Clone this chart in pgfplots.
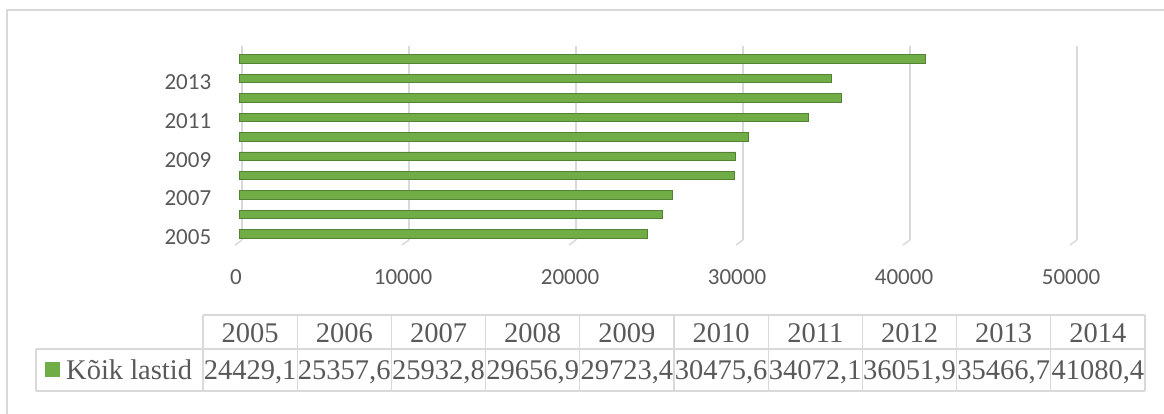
\documentclass[border=0pt]{standalone}
\usepackage{fontspec}
\usepackage{pgfplots}
\pgfplotsset{compat=1.18}
\newfontfamily\carlito{Carlito}
\newfontfamily\lserif{Liberation Serif}
\definecolor{bargreen}{HTML}{70AD47}
\definecolor{bardark}{HTML}{548235}
\definecolor{gridgray}{HTML}{D9D9D9}
\definecolor{txtgray}{HTML}{595959}
\begin{document}
\begin{tikzpicture}[x=1pt,y=1pt]
\useasboundingbox (0,0) rectangle (1164,414);
\draw[gridgray, line width=1.5pt] (7,0) -- (7,404) -- (1164,404);
\begin{axis}[at={(242pt,174pt)}, anchor=south west, scale only axis,
  width=835pt, height=194pt,
  xmin=0, xmax=50000, ymin=2004.69, ymax=2014.67,
  xbar, bar width=8.5pt,
  axis line style={draw=none}, major tick style={draw=none},
  xtick={0,10000,20000,30000,40000,50000},
  ytick={2005,2007,2009,2011,2013},
  xmajorgrids, major grid style={gridgray, line width=1.5pt},
  scaled x ticks=false,
  /pgf/number format/.cd, 1000 sep={}, assume math mode=true, /pgfplots/.cd,
  xticklabel style={font=\carlito\fontsize{23}{27}\selectfont, text=txtgray, anchor=center, yshift=-37pt, xshift=-6pt},
  yticklabel style={font=\carlito\fontsize{23}{27}\selectfont, text=txtgray, anchor=east, xshift=-23pt, yshift=-3.5pt},
  clip=false,
]
\pgfplotsinvokeforeach{0,10000,20000,30000,40000,50000}{
  \draw[gridgray, line width=1.5pt] (axis cs:#1,2004.69) -- ++(-7pt,-5pt);
}
\addplot[fill=bargreen, draw=bardark, line width=0.8pt, xshift=-3pt] coordinates {
  (24429.1,2005) (25357.6,2006) (25932.8,2007) (29656.9,2008) (29723.4,2009)
  (30475.6,2010) (34072.1,2011) (36051.9,2012) (35466.7,2013) (41080.4,2014)
};
\end{axis}
% data table
\begin{scope}[gridgray, line width=1.2pt]
  \draw (203,99) -- (1145,99);
  \draw (36,65) -- (1145,65);
  \draw (36,23) -- (1145,23);
  \draw (36,65) -- (36,23);
  \foreach \i in {0,...,10} {
    \draw ({203+94.2*\i},99) -- ({203+94.2*\i},23);
  }
\end{scope}
\foreach \i/\yr/\val in {0/2005/{24429,1},1/2006/{25357,6},2/2007/{25932,8},3/2008/{29656,9},4/2009/{29723,4},5/2010/{30475,6},6/2011/{34072,1},7/2012/{36051,9},8/2013/{35466,7},9/2014/{41080,4}} {
  \node[anchor=base, inner sep=0pt, text=txtgray, font=\lserif\fontsize{28.5}{32}\selectfont] at ({203+47.1+94.2*\i},71) {\yr};
  \node[anchor=base, inner sep=0pt, text=txtgray, font=\lserif\fontsize{28.5}{32}\selectfont] at ({203+47.1+94.2*\i},34) {\val};
}
\fill[bargreen] (45,37) rectangle (60,52);
\node[anchor=base west, inner sep=0pt, text=txtgray, font=\lserif\fontsize{28.5}{32}\selectfont] at (66,34) {Kõik lastid};
\end{tikzpicture}
\end{document}
